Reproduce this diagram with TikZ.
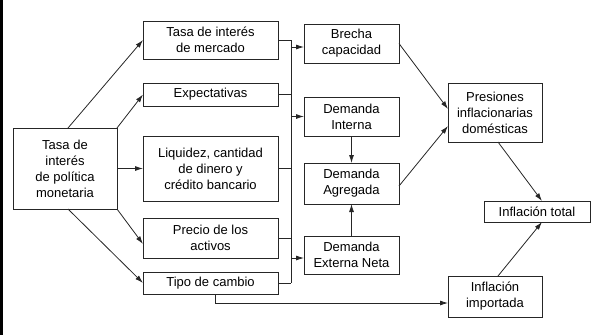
\documentclass[tikz,border=0pt]{standalone}
\usepackage{fontspec}
\setmainfont{Liberation Sans}
\usetikzlibrary{arrows.meta}
\begin{document}
\begin{tikzpicture}[x=1pt,y=-1pt,
  box/.style={draw=black!85, line width=0.8pt, inner sep=0pt, outer sep=0pt, align=center,
    font=\fontsize{13}{16}\selectfont},
  ln/.style={draw=black!85, line width=0.8pt},
  arr/.style={ln, -{Latex[length=8pt,width=5pt]}}]
\useasboundingbox (0,0) rectangle (591,335);
\fill[black] (0,0) rectangle (3,335);
% left column
\node[box, minimum width=104pt, minimum height=81pt] (tpm) at (65,168.5) {Tasa de\\interés\\de política\\monetaria};
\node[box, minimum width=135pt, minimum height=38pt] (tim) at (210.5,40) {Tasa de interés\\de mercado};
\node[box, minimum width=135pt, minimum height=23pt] (exp) at (210.5,94.5) {Expectativas};
\node[box, minimum width=135pt, minimum height=65pt] (liq) at (210.5,168.5) {Liquidez, cantidad\\de dinero y\\crédito bancario};
\node[box, minimum width=135pt, minimum height=40pt] (pre) at (210.5,238) {Precio de los\\activos};
\node[box, minimum width=135pt, minimum height=22pt] (tip) at (210.5,283) {Tipo de cambio};
% middle column
\node[box, minimum width=95pt, minimum height=39pt] (bre) at (351.5,43.5) {Brecha\\capacidad};
\node[box, minimum width=95pt, minimum height=39pt] (din) at (351.5,116.5) {Demanda\\Interna};
\node[box, minimum width=95pt, minimum height=41pt] (dag) at (351.5,183.5) {Demanda\\Agregada};
\node[box, minimum width=95pt, minimum height=38pt] (den) at (351.5,255) {Demanda\\Externa Neta};
% right column
\node[box, minimum width=94pt, minimum height=59pt] (pid) at (495,112.5) {Presiones\\inflacionarias\\domésticas};
\node[box, minimum width=106pt, minimum height=21pt] (int) at (537,211.5) {Inflación total};
\node[box, minimum width=94pt, minimum height=41pt] (iim) at (495,296.5) {Inflación\\importada};
% from policy rate
\draw[arr] ([xshift=3pt]tpm.north) -- (tim.west);
\draw[arr] (tpm.north east) -- (exp.west);
\draw[arr] (tpm.east) -- (liq.west);
\draw[arr] (tpm.south east) -- ([yshift=-6pt]pre.west);
\draw[arr] ([xshift=3pt]tpm.south) -- (tip.west);
% bus
\coordinate (bx) at (291,0);
\coordinate (breIn) at ([yshift=-3.5pt]bre.west);
\coordinate (denIn) at ([yshift=-3pt]den.west);
\coordinate (iimIn) at ([yshift=-6.5pt]iim.west);
\draw[ln] (tim.east) -- (tim.east -| bx);
\draw[ln] (exp.east) -- (exp.east -| bx);
\draw[ln] (liq.east) -- (liq.east -| bx);
\draw[ln] (pre.east) -- (pre.east -| bx);
\draw[ln] (tip.east) -- (tip.east -| bx);
\draw[ln] (tim.east -| bx) -- (tip.east -| bx);
\draw[arr] (bx |- breIn) -- (breIn);
\draw[arr] (bx |- din.west) -- (din.west);
\draw[arr] (bx |- denIn) -- (denIn);
% exchange rate to imported inflation
\draw[arr] ([xshift=4.5pt]tip.south) |- (iimIn);
% demand
\draw[arr] (din.south) -- (dag.north);
\draw[arr] (den.north) -- (dag.south);
\draw[arr] (bre.east) -- ([yshift=3.5pt]pid.west);
\draw[arr] ([yshift=-2.5pt]dag.east) -- ([yshift=-13.5pt]pid.west);
% inflation
\draw[arr] ([xshift=3pt]pid.south) -- ([xshift=5pt]int.north);
\draw[arr] ([xshift=3pt]iim.north) -- ([xshift=5pt]int.south);
\end{tikzpicture}
\end{document}
